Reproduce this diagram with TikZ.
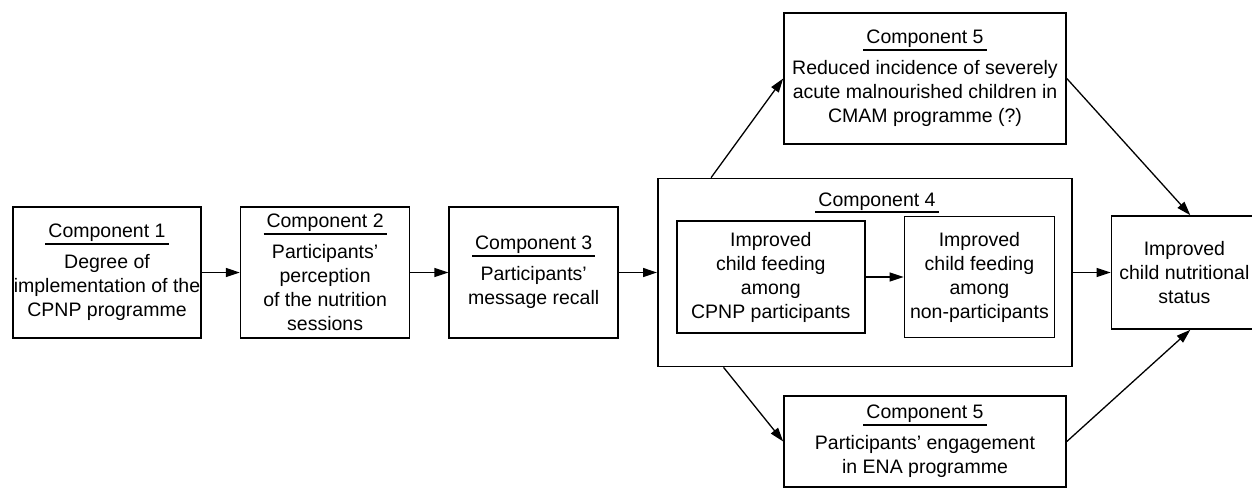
\documentclass[tikz,border=0pt]{standalone}
\usepackage{fontspec}
\setmainfont{Liberation Sans}
\usetikzlibrary{positioning,calc,arrows.meta}

% underlined component heading
\newcommand{\comphead}[1]{\setbox0\hbox{Component #1}%
  \vtop{\hbox to \dimexpr\wd0+6pt\relax{\hss\box0\hss}\kern1.2pt\hrule height 2pt}}

\begin{document}
\begin{tikzpicture}[x=1pt, y=-1pt, node distance=38pt,
    font=\fontsize{19.5}{24}\selectfont,
    box/.style={draw, line width=1.6pt, align=center, inner sep=0pt},
    arr/.style={-{Triangle[length=14pt,width=9pt]}, line width=1.3pt}]
    \useasboundingbox (0,0) rectangle (1252,488);

    % main chain
    \node[box, minimum width=188pt, minimum height=131pt] (comp1) at (107,272.5)
        {\comphead{1}\\[7pt]Degree of\\implementation of the\\CPNP programme};
    \node[box, minimum width=169pt, minimum height=131pt, right=of comp1] (comp2)
        {\comphead{2}\\[7pt]Participants'\\perception\\of the nutrition\\sessions};
    \node[box, minimum width=169pt, minimum height=131pt, right=of comp2] (comp3)
        {\comphead{3}\\[7pt]Participants'\\message recall};
    \node[box, minimum width=414pt, minimum height=188pt, right=of comp3] (comp4) {};
    \node[anchor=base] (head4) at (877,206) {\comphead{4}};
    \node[box, minimum width=188pt, minimum height=112pt, right=19pt of comp4.west, yshift=-4.5pt] (feed1)
        {Improved\\child feeding\\among\\CPNP participants};
    \node[box, minimum width=150pt, minimum height=121pt, right=of feed1] (feed2)
        {Improved\\child feeding\\among\\non-participants};
    \node[box, minimum width=146pt, minimum height=113pt, right=of comp4] (status)
        {Improved\\child nutritional\\status};

    % component 5 boxes
    \node[box, minimum width=282pt, minimum height=131pt] (comp5a) at (925,78.5)
        {\comphead{5}\\[7pt]Reduced incidence of severely\\acute malnourished children in\\CMAM programme (?)};
    \node[box, minimum width=282pt, minimum height=91pt] (comp5b) at (925,441.5)
        {\comphead{5}\\[7pt]Participants' engagement\\in ENA programme};

    % arrows
    \draw[arr] (comp1) -- (comp2);
    \draw[arr] (comp2) -- (comp3);
    \draw[arr] (comp3) -- (comp4);
    \draw[arr] (feed1) -- (feed2);
    \draw[arr] (comp4) -- (status);
    \draw[arr] ($(comp4.north west)!0.13!(comp4.north east)$) -- (comp5a.west);
    \draw[arr] (comp5a.east) -- ($(status.north west)!0.54!(status.north east)$);
    \draw[arr] ($(comp4.south west)!0.16!(comp4.south east)$) -- (comp5b.west);
    \draw[arr] (comp5b.east) -- ($(status.south west)!0.54!(status.south east)$);
\end{tikzpicture}
\end{document}
